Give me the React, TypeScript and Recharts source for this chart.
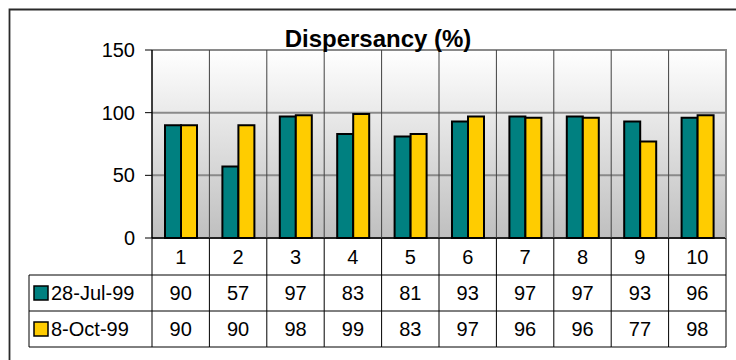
import React from 'react';
import { BarChart, Bar, XAxis, YAxis, CartesianGrid } from 'recharts';

// Sample numbers (x axis) and dispersancy readings for each survey date
const categories = ['1', '2', '3', '4', '5', '6', '7', '8', '9', '10'];
const julValues = [90, 57, 97, 83, 81, 93, 97, 97, 93, 96];
const octValues = [90, 90, 98, 99, 83, 97, 96, 96, 77, 98];
const seriesNames = ['28-Jul-99', '8-Oct-99'];
const seriesColors = ['#008080', '#FFCC00'];
const yTicks = [0, 50, 100, 150];
const chartTitle = 'Dispersancy (%)';

const data = categories.map((cat, i) => ({ cat, jul: julValues[i], oct: octValues[i] }));
const seriesValues = [julValues, octValues];

// Layout
const W = 736;
const H = 360;
const PLOT_LEFT = 152;
const PLOT_RIGHT = 726;
const PLOT_TOP = 50;
const PLOT_BOTTOM = 238;
const Y_AXIS_W = 60;
const X_AXIS_H = 110;
const CELL_W = (PLOT_RIGHT - PLOT_LEFT) / categories.length;
const PLOT_H = PLOT_BOTTOM - PLOT_TOP;
const ROWS = [0, 37, 73, 109]; // data-table row boundaries below the axis
const LEGEND_W = 123;
const FONT = '"Liberation Sans", Arial, sans-serif';

// Each x tick draws its column of the data table underneath the plot
const TableTick = (props: any) => {
  const { x, y, payload, index } = props;
  const left = x - CELL_W / 2;
  const right = x + CELL_W / 2;
  const last = index === categories.length - 1;
  const textProps = { fontSize: 20, fontFamily: FONT, fill: '#000', textAnchor: 'middle' as const };
  return (
    <g>
      {/* column boundary inside the plot */}
      {index > 0 && (
        <line x1={left} x2={left} y1={y - PLOT_H} y2={y} stroke="#404040" strokeWidth={1} />
      )}
      {last && (
        <line x1={right} x2={right} y1={y - PLOT_H - 1} y2={y} stroke="#8a8a8a" strokeWidth={2} />
      )}
      {/* column boundaries inside the table */}
      <line x1={left} x2={left} y1={y} y2={y + ROWS[3]} stroke="#000" strokeWidth={1} />
      {last && <line x1={right} x2={right} y1={y} y2={y + ROWS[3]} stroke="#000" strokeWidth={1} />}
      <line x1={left} x2={right} y1={y + ROWS[1]} y2={y + ROWS[1]} stroke="#000" strokeWidth={1} />
      <line x1={left} x2={right} y1={y + ROWS[2]} y2={y + ROWS[2]} stroke="#000" strokeWidth={1} />
      <line x1={left} x2={right} y1={y + ROWS[3]} y2={y + ROWS[3]} stroke="#000" strokeWidth={1} />
      <text x={x} y={y + (ROWS[0] + ROWS[1]) / 2 + 7} {...textProps}>
        {payload.value}
      </text>
      {seriesValues.map((vals, s) => (
        <text key={s} x={x} y={y + (ROWS[s + 1] + ROWS[s + 2]) / 2 + 7} {...textProps}>
          {vals[index]}
        </text>
      ))}
      {/* legend column on the left of the first cell */}
      {index === 0 && (
        <g>
          <line x1={left - LEGEND_W} x2={left - LEGEND_W} y1={y + ROWS[1]} y2={y + ROWS[3]} stroke="#000" strokeWidth={1} />
          {[1, 2, 3].map((r) => (
            <line key={r} x1={left - LEGEND_W} x2={left} y1={y + ROWS[r]} y2={y + ROWS[r]} stroke="#000" strokeWidth={1} />
          ))}
          {seriesNames.map((name, s) => {
            const cy = y + (ROWS[s + 1] + ROWS[s + 2]) / 2;
            return (
              <g key={name}>
                <rect x={left - LEGEND_W + 5} y={cy - 7} width={14} height={14} fill={seriesColors[s]} stroke="#000" strokeWidth={1.5} />
                <text x={left - LEGEND_W + 22} y={cy + 7} fontSize={20} fontFamily={FONT} fill="#000">
                  {name}
                </text>
              </g>
            );
          })}
        </g>
      )}
    </g>
  );
};

export default function App() {
  return (
    <div style={{ position: 'absolute', left: 0, top: 0, width: W, height: H, background: '#fff' }}>
      <BarChart
        width={W}
        height={H}
        data={data}
        barGap={0}
        margin={{ top: PLOT_TOP, right: W - PLOT_RIGHT, bottom: H - PLOT_BOTTOM - X_AXIS_H, left: PLOT_LEFT - Y_AXIS_W }}
      >
        <defs>
          <linearGradient id="plotBg" x1="0" y1="0" x2="0" y2="1">
            <stop offset="0%" stopColor="#ffffff" />
            <stop offset="100%" stopColor="#bfbfbf" />
          </linearGradient>
        </defs>
        <CartesianGrid vertical={false} stroke="#8a8a8a" strokeWidth={2} fill="url(#plotBg)" fillOpacity={1} />
        <XAxis
          dataKey="cat"
          height={X_AXIS_H}
          tickLine={false}
          tickSize={0}
          tickMargin={0}
          interval={0}
          axisLine={{ stroke: '#000', strokeWidth: 1.5 }}
          tick={TableTick}
        />
        <YAxis
          width={Y_AXIS_W}
          domain={[0, 150]}
          ticks={yTicks}
          interval={0}
          tickSize={7}
          tickMargin={10}
          axisLine={{ stroke: '#000', strokeWidth: 1.5 }}
          tickLine={{ stroke: '#000', strokeWidth: 1 }}
          tick={{ fontSize: 20, fontFamily: FONT, fill: '#000' }}
        />
        <Bar dataKey="jul" name={seriesNames[0]} fill={seriesColors[0]} stroke="#000" strokeWidth={2} barSize={16} isAnimationActive={false} />
        <Bar dataKey="oct" name={seriesNames[1]} fill={seriesColors[1]} stroke="#000" strokeWidth={2} barSize={16} isAnimationActive={false} />
      </BarChart>
      <svg width={W} height={H} style={{ position: 'absolute', left: 0, top: 0, pointerEvents: 'none' }}>
        <path d={`M9.5,${H} V9.5 H${W}`} fill="none" stroke="#2a2a2a" strokeWidth={1.8} />
        <text x={378} y={46.5} textAnchor="middle" fontSize={24} fontWeight="bold" fontFamily={FONT} fill="#000">
          {chartTitle}
        </text>
      </svg>
    </div>
  );
}
